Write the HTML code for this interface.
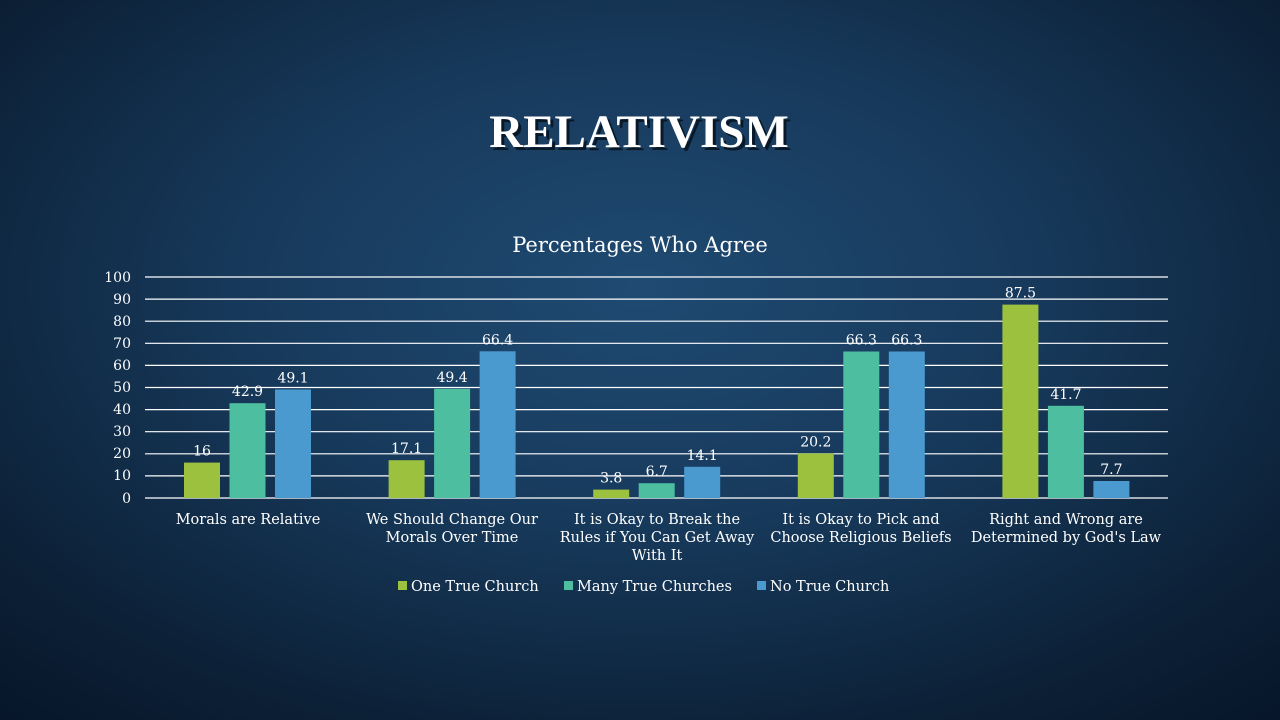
<!DOCTYPE html>
<html><head><style>
html,body{margin:0;padding:0;}
body{width:1280px;height:720px;overflow:hidden;background:radial-gradient(ellipse 75% 80% at 50% 40%,#1f4a72 0%,#173a5c 40%,#0c2036 80%,#07162a 100%);}
</style></head><body>
<svg width="1280" height="720" xmlns="http://www.w3.org/2000/svg" style="position:absolute;left:0;top:0" font-family="DejaVu Serif, serif">
<text x="642" y="150" text-anchor="middle" font-family="Liberation Serif, serif" font-weight="bold" font-size="47" fill="#000" opacity="0.6">RELATIVISM</text>
<text x="639" y="147" text-anchor="middle" font-family="Liberation Serif, serif" font-weight="bold" font-size="47" fill="#fff">RELATIVISM</text>
<text x="640" y="252" text-anchor="middle" font-size="21" fill="#fff">Percentages Who Agree</text>
<g stroke="#fff" stroke-width="1.2">
<line x1="145" x2="1168" y1="277" y2="277"/><line x1="145" x2="1168" y1="299.1" y2="299.1"/><line x1="145" x2="1168" y1="321.2" y2="321.2"/><line x1="145" x2="1168" y1="343.3" y2="343.3"/><line x1="145" x2="1168" y1="365.4" y2="365.4"/><line x1="145" x2="1168" y1="387.5" y2="387.5"/><line x1="145" x2="1168" y1="409.6" y2="409.6"/><line x1="145" x2="1168" y1="431.7" y2="431.7"/><line x1="145" x2="1168" y1="453.8" y2="453.8"/><line x1="145" x2="1168" y1="475.9" y2="475.9"/><line x1="145" x2="1168" y1="498" y2="498"/>
</g>
<g fill="#fff" font-size="14" text-anchor="end">
<text x="131" y="282">100</text><text x="131" y="304">90</text><text x="131" y="326">80</text><text x="131" y="348">70</text><text x="131" y="370">60</text><text x="131" y="392">50</text><text x="131" y="414">40</text><text x="131" y="436">30</text><text x="131" y="458">20</text><text x="131" y="480">10</text><text x="131" y="503">0</text>
</g>
<g>
<rect x="184" y="462.6" width="36" height="35.4" fill="#9bc13f"/>
<rect x="229.5" y="403.2" width="36" height="94.8" fill="#4dbfa0"/>
<rect x="275" y="389.5" width="36" height="108.5" fill="#4a9ad0"/>
<rect x="388.6" y="460.2" width="36" height="37.8" fill="#9bc13f"/>
<rect x="434.1" y="388.8" width="36" height="109.2" fill="#4dbfa0"/>
<rect x="479.6" y="351.3" width="36" height="146.7" fill="#4a9ad0"/>
<rect x="593.2" y="489.6" width="36" height="8.4" fill="#9bc13f"/>
<rect x="638.7" y="483.2" width="36" height="14.8" fill="#4dbfa0"/>
<rect x="684.2" y="466.8" width="36" height="31.2" fill="#4a9ad0"/>
<rect x="797.8" y="453.4" width="36" height="44.6" fill="#9bc13f"/>
<rect x="843.3" y="351.5" width="36" height="146.5" fill="#4dbfa0"/>
<rect x="888.8" y="351.5" width="36" height="146.5" fill="#4a9ad0"/>
<rect x="1002.4" y="304.6" width="36" height="193.4" fill="#9bc13f"/>
<rect x="1047.9" y="405.8" width="36" height="92.2" fill="#4dbfa0"/>
<rect x="1093.4" y="481" width="36" height="17" fill="#4a9ad0"/>
</g>
<g fill="#fff" font-size="14" text-anchor="middle">
<text x="202" y="455.6">16</text><text x="247.5" y="396.2">42.9</text><text x="293" y="382.5">49.1</text>
<text x="406.6" y="453.2">17.1</text><text x="452.1" y="381.8">49.4</text><text x="497.6" y="344.3">66.4</text>
<text x="611.2" y="482.6">3.8</text><text x="656.7" y="476.2">6.7</text><text x="702.2" y="459.8">14.1</text>
<text x="815.8" y="446.4">20.2</text><text x="861.3" y="344.5">66.3</text><text x="906.8" y="344.5">66.3</text>
<text x="1020.4" y="297.6">87.5</text><text x="1065.9" y="398.8">41.7</text><text x="1111.4" y="474">7.7</text>
</g>
<g fill="#fff" font-size="14.5" text-anchor="middle">
<text x="248" y="524">Morals are Relative</text>
<text x="452" y="524">We Should Change Our</text><text x="452" y="542">Morals Over Time</text>
<text x="657" y="524">It is Okay to Break the</text><text x="657" y="542">Rules if You Can Get Away</text><text x="657" y="560">With It</text>
<text x="861" y="524">It is Okay to Pick and</text><text x="861" y="542">Choose Religious Beliefs</text>
<text x="1066" y="524">Right and Wrong are</text><text x="1066" y="542">Determined by God's Law</text>
</g>
<g font-size="14.5" fill="#fff">
<rect x="398" y="581" width="9" height="9" fill="#9bc13f"/><text x="411" y="591">One True Church</text>
<rect x="564" y="581" width="9" height="9" fill="#4dbfa0"/><text x="577" y="591">Many True Churches</text>
<rect x="757" y="581" width="9" height="9" fill="#4a9ad0"/><text x="770" y="591">No True Church</text>
</g>
</svg>
</body></html>
